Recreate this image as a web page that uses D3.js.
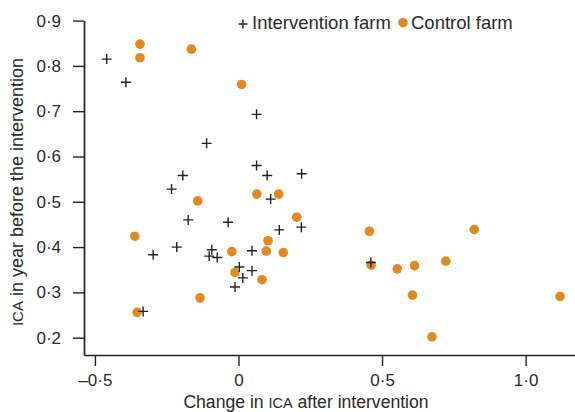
<!DOCTYPE html>
<html>
<head>
<meta charset="utf-8">
<script src="https://cdn.jsdelivr.net/npm/d3@7"></script>
<style>
  html, body { margin: 0; padding: 0; background: #fff; }
  svg { display: block; }
  text { font-family: "Liberation Sans", Arial, Helvetica, sans-serif; fill: #2a2a2a; }
</style>
</head>
<body>
<svg id="chart" width="575" height="412"></svg>
<script>
// Intervention farms: change in ICA (x), ICA before (y)
const interventionX = [-0.459, -0.392, 0.063, -0.111, 0.063, 0.100, 0.220, -0.194, -0.233, 0.112,
  -0.175, -0.036, 0.142, 0.219, -0.297, -0.215, -0.093, -0.102, -0.074, 0.047,
  0.003, 0.047, 0.015, -0.012, -0.332, 0.461];
const interventionY = [0.815, 0.764, 0.693, 0.629, 0.580, 0.558, 0.562, 0.558, 0.528, 0.506,
  0.460, 0.455, 0.438, 0.444, 0.383, 0.400, 0.394, 0.380, 0.377, 0.392,
  0.356, 0.348, 0.332, 0.312, 0.258, 0.366];
// Control farms
const controlX = [-0.343, -0.343, -0.164, 0.011, -0.142, 0.064, 0.140, 0.203, -0.361, 0.103,
  -0.023, 0.097, 0.156, -0.012, 0.082, -0.134, -0.353, 0.456, 0.821, 0.462,
  0.553, 0.613, 0.722, 0.606, 1.120, 0.674];
const controlY = [0.848, 0.818, 0.837, 0.759, 0.502, 0.517, 0.517, 0.466, 0.424, 0.414,
  0.390, 0.391, 0.388, 0.344, 0.328, 0.288, 0.256, 0.435, 0.439, 0.360,
  0.352, 0.359, 0.369, 0.294, 0.291, 0.202];

const xTicks = [-0.5, 0, 0.5, 1.0];
const xTickLabels = ["\u20130\u00b75", "0", "0\u00b75", "1\u00b70"];
const yTicks = [0.2, 0.3, 0.4, 0.5, 0.6, 0.7, 0.8, 0.9];
const yTickLabels = ["0\u00b72", "0\u00b73", "0\u00b74", "0\u00b75", "0\u00b76", "0\u00b77", "0\u00b78", "0\u00b79"];

const seriesNames = ["Intervention farm", "Control farm"];
const orange = "#e38a1f";
const ink = "#222";

const svg = d3.select("#chart");

const x = d3.scaleLinear().domain([-0.538, 1.172]).range([84, 575]);
const y = d3.scaleLinear().domain([0.1618, 0.9]).range([355, 20.6]);

// Y axis
const yAxis = d3.axisLeft(y)
  .tickValues(yTicks)
  .tickFormat((d, i) => yTickLabels[i])
  .tickSizeOuter(0)
  .tickSizeInner(11)
  .tickPadding(12);
const gy = svg.append("g").attr("transform", "translate(84,0)").call(yAxis);
gy.select(".domain").attr("stroke", ink).attr("stroke-width", 1.7);
gy.selectAll(".tick line").attr("stroke", ink).attr("stroke-width", 1.4);
gy.selectAll(".tick text").attr("font-size", 17).attr("fill", "#2a2a2a")
  .attr("font-family", "Liberation Sans, Arial, sans-serif");

// X axis
const xAxis = d3.axisBottom(x)
  .tickValues(xTicks)
  .tickFormat((d, i) => xTickLabels[i])
  .tickSizeOuter(0)
  .tickSizeInner(11)
  .tickPadding(8);
const gx = svg.append("g").attr("transform", "translate(0,355)").call(xAxis);
gx.select(".domain").attr("stroke", ink).attr("stroke-width", 1.7);
gx.selectAll(".tick line").attr("stroke", ink).attr("stroke-width", 1.4);
gx.selectAll(".tick text").attr("font-size", 17).attr("fill", "#2a2a2a")
  .attr("font-family", "Liberation Sans, Arial, sans-serif");

// Axis titles
const xt = svg.append("text")
  .attr("x", 306).attr("y", 407.5)
  .attr("text-anchor", "middle")
  .attr("font-size", 17.6);
xt.append("tspan").text("Change in ");
xt.append("tspan").attr("font-size", 14.5).text("ICA");
xt.append("tspan").text(" after intervention");

const yt = svg.append("text")
  .attr("transform", "translate(23,192) rotate(-90)")
  .attr("text-anchor", "middle")
  .attr("font-size", 18);
yt.append("tspan").attr("font-size", 15).text("ICA");
yt.append("tspan").text(" in year before the intervention");

// Control points (drawn first)
const controlData = controlX.map((v, i) => [v, controlY[i]]);
svg.append("g").selectAll("circle")
  .data(controlData)
  .join("circle")
  .attr("cx", d => x(d[0]))
  .attr("cy", d => y(d[1]))
  .attr("r", 4.8)
  .attr("fill", orange);

// Intervention points (plus signs)
const interventionData = interventionX.map((v, i) => [v, interventionY[i]]);
const h = 5;
svg.append("g").selectAll("path")
  .data(interventionData)
  .join("path")
  .attr("d", d => {
    const cx = x(d[0]), cy = y(d[1]);
    return `M${cx - h},${cy}H${cx + h}M${cx},${cy - h}V${cy + h}`;
  })
  .attr("stroke", ink)
  .attr("stroke-width", 1.4)
  .attr("fill", "none");

// Legend
const lg = svg.append("g");
lg.append("path")
  .attr("d", `M${243 - 4.5},24H${243 + 4.5}M243,${24 - 4.5}V${24 + 4.5}`)
  .attr("stroke", ink).attr("stroke-width", 1.4);
lg.append("text").attr("x", 252).attr("y", 29).attr("font-size", 18.5).text(seriesNames[0]);
lg.append("circle").attr("cx", 403).attr("cy", 22.7).attr("r", 4.8).attr("fill", orange);
lg.append("text").attr("x", 411).attr("y", 29).attr("font-size", 18.5).text(seriesNames[1]);
</script>
</body>
</html>
